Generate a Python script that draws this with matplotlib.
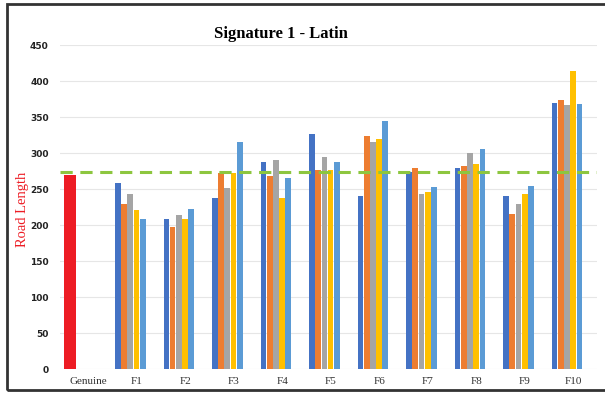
import matplotlib.pyplot as plt
import matplotlib.patches as mpatches
import numpy as np

# values
groups = ["F1", "F2", "F3", "F4", "F5", "F6", "F7", "F8", "F9", "F10"]
genuine = 269
threshold = 274
s1 = [259, 208, 238, 288, 327, 240, 274, 280, 240, 369]
s2 = [230, 197, 273, 268, 276, 324, 280, 282, 215, 374]
s3 = [243, 214, 252, 290, 295, 316, 243, 300, 230, 367]
s4 = [221, 208, 273, 237, 277, 320, 246, 285, 243, 414]
s5 = [208, 223, 316, 266, 287, 345, 253, 306, 255, 368]
series = [s1, s2, s3, s4, s5]
colors = ["#4472C4", "#ED7D31", "#A5A5A5", "#FFC000", "#5B9BD5"]

fig = plt.figure(figsize=(6.05, 3.93), dpi=100)
ax = fig.add_axes([0.099, 0.061, 0.888, 0.824])

x = np.arange(1, len(groups) + 1)
step = 0.128
for i, (vals, c) in enumerate(zip(series, colors)):
    ax.bar(x + (i - 2) * step, vals, width=0.118, color=c, zorder=2)
ax.bar(-0.25, genuine, width=0.25, color="#ED1C24", zorder=2)

ax.axhline(threshold, color="#8DC63F", lw=2.2, ls=(0, (4, 2.5)), zorder=3)

ax.set_ylim(0, 450)
ax.set_xlim(-0.45, 10.62)
ax.set_yticks(range(0, 451, 50))
ax.yaxis.grid(True, color="#E6E6E6", lw=0.8, zorder=0)
ax.set_axisbelow(True)
for s in ax.spines.values():
    s.set_visible(False)
ax.tick_params(axis="x", length=0, pad=6)
ax.tick_params(axis="y", length=0, pad=8)
for lab in ax.get_yticklabels():
    lab.set_fontsize(6.5)
    lab.set_fontweight("bold")
    lab.set_color("#222222")

ax.set_xticks(np.concatenate([[0], x]) + 0.13)
ax.set_xticklabels(["Genuine"] + groups, fontfamily="Liberation Serif",
                   fontsize=8, color="#333333")

fig.text(0.464, 0.913, "Signature 1 - Latin", ha="center", va="center",
         fontfamily="Liberation Serif", fontweight="bold", fontsize=12)
fig.text(0.038, 0.466, "Road Length", rotation=90, ha="center", va="center",
         fontfamily="Liberation Serif", fontsize=10.5, color="#ED1C24")

# outer frame, right side runs off the image
fig.patches.append(mpatches.Rectangle((7 / 605, 3 / 393), 1.1, 386 / 393,
                                      transform=fig.transFigure, fill=False,
                                      lw=2, edgecolor="#333333"))

fig.savefig("out.png", dpi=100)
